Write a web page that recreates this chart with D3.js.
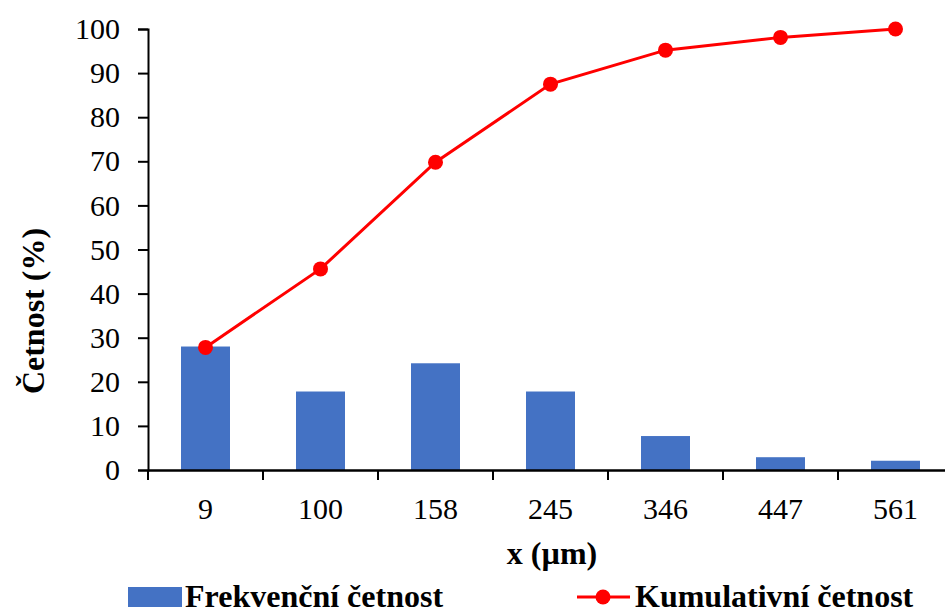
<!DOCTYPE html>
<html>
<head>
<meta charset="utf-8">
<script src="https://cdn.jsdelivr.net/npm/d3@7/dist/d3.min.js"></script>
<style>
  html, body { margin: 0; padding: 0; background: #fff; }
  svg { display: block; font-family: "Liberation Serif", "Times New Roman", serif; }
</style>
</head>
<body>
<svg id="chart" width="945" height="611"></svg>
<script>
// Size classes (µm) and frequencies (%)
const categories = ["9", "100", "158", "245", "346", "447", "561"];
const frequency = [28.0, 17.8, 24.2, 17.8, 7.7, 2.9, 2.1];
const cumulative = [27.8, 45.6, 69.8, 87.5, 95.2, 98.1, 100.0];
const yTicks = [0, 10, 20, 30, 40, 50, 60, 70, 80, 90, 100];
const legendLabels = ["Frekvenční četnost", "Kumulativní četnost"];

const svg = d3.select("#chart");
const plotLeft = 148, plotRight = 953, plotTop = 29, plotBottom = 470;
const tickFont = 30, titleFont = 32;

const x = d3.scaleBand().domain(categories).range([plotLeft, plotRight]);
const y = d3.scaleLinear().domain([0, 100]).range([plotBottom, plotTop]);
const cx = c => x(c) + x.bandwidth() / 2;

// Bars
svg.append("g").selectAll("rect")
  .data(frequency)
  .join("rect")
  .attr("x", (d, i) => cx(categories[i]) - 24.5)
  .attr("width", 49)
  .attr("y", d => y(d))
  .attr("height", d => y(0) - y(d))
  .attr("fill", "#4472C4");

// Y axis
const yAxis = svg.append("g")
  .attr("transform", `translate(${plotLeft},0)`)
  .call(d3.axisLeft(y).tickValues(yTicks).tickSize(10).tickPadding(18));
yAxis.select(".domain").attr("stroke", "#000").attr("stroke-width", 2);
yAxis.selectAll(".tick line").attr("stroke", "#000").attr("stroke-width", 2);
yAxis.selectAll(".tick text").attr("font-size", tickFont).attr("fill", "#000")
  .attr("font-family", "Liberation Serif");

// X axis with ticks on the category boundaries
const xAxis = svg.append("g")
  .attr("transform", `translate(0,${plotBottom})`)
  .call(d3.axisBottom(x).tickSize(0));
xAxis.select(".domain").attr("stroke", "#000").attr("stroke-width", 2.5);
xAxis.selectAll(".tick text").attr("font-size", tickFont).attr("fill", "#000")
  .attr("font-family", "Liberation Serif")
  .attr("y", 49).attr("dy", 0);
xAxis.selectAll(".boundary")
  .data(categories)
  .join("line")
  .attr("class", "boundary")
  .attr("x1", d => x(d)).attr("x2", d => x(d))
  .attr("y1", 0).attr("y2", 10)
  .attr("stroke", "#000").attr("stroke-width", 2);

// Cumulative line
const line = d3.line()
  .x((d, i) => cx(categories[i]))
  .y(d => y(d));
svg.append("path")
  .datum(cumulative)
  .attr("d", line)
  .attr("fill", "none")
  .attr("stroke", "#FF0000")
  .attr("stroke-width", 3);
svg.append("g").selectAll("circle")
  .data(cumulative)
  .join("circle")
  .attr("cx", (d, i) => cx(categories[i]))
  .attr("cy", d => y(d))
  .attr("r", 7.5)
  .attr("fill", "#FF0000");

// Axis titles
svg.append("text")
  .attr("transform", "translate(44,311) rotate(-90)")
  .attr("text-anchor", "middle")
  .attr("font-size", titleFont).attr("font-weight", "bold")
  .text("Četnost (%)");
svg.append("text")
  .attr("x", 552).attr("y", 564)
  .attr("text-anchor", "middle")
  .attr("font-size", titleFont).attr("font-weight", "bold")
  .text("x (µm)");

// Legend
const legend = svg.append("g");
legend.append("rect")
  .attr("x", 128).attr("y", 587).attr("width", 54).attr("height", 20)
  .attr("fill", "#4472C4");
legend.append("text")
  .attr("x", 185).attr("y", 607)
  .attr("font-size", titleFont).attr("font-weight", "bold")
  .text(legendLabels[0]);
legend.append("line")
  .attr("x1", 577).attr("x2", 630).attr("y1", 597).attr("y2", 597)
  .attr("stroke", "#FF0000").attr("stroke-width", 3);
legend.append("circle")
  .attr("cx", 603).attr("cy", 597).attr("r", 7.5).attr("fill", "#FF0000");
legend.append("text")
  .attr("x", 635).attr("y", 607)
  .attr("font-size", titleFont).attr("font-weight", "bold")
  .text(legendLabels[1]);
</script>
</body>
</html>
